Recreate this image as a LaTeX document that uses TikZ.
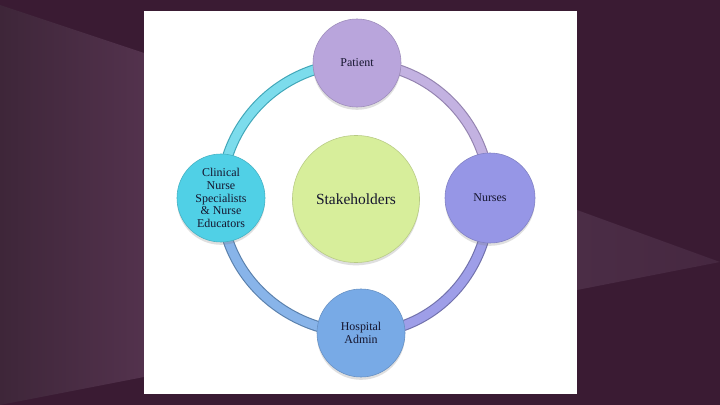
\documentclass[tikz,border=0pt]{standalone}
\usepackage{fontspec}
\setmainfont{Liberation Serif}
\usetikzlibrary{shadows}

\definecolor{slidedark}{HTML}{3A1B33}
\definecolor{slideleftA}{HTML}{3E2639}
\definecolor{slideleftB}{HTML}{53324D}
\definecolor{slideright}{HTML}{4B2D46}
\definecolor{textnavy}{HTML}{15152E}
\definecolor{patientcol}{HTML}{B9A5DC}
\definecolor{nursecol}{HTML}{9696E6}
\definecolor{admincol}{HTML}{78AAE6}
\definecolor{cnscol}{HTML}{50D0E6}
\definecolor{stakecol}{HTML}{D7EE9B}

\pgfdeclarelayer{slide}
\pgfdeclarelayer{ring}
\pgfsetlayers{slide,ring,main}

\begin{document}
\begin{tikzpicture}[x=0.025cm,y=-0.025cm]
   \tikzstyle{every node}=[font=\fontsize{8.5}{9}\selectfont, text=textnavy, align=center]
   \tikzstyle{bubble}=[circle, minimum size=2.2cm, inner sep=1pt,
      drop shadow={shadow xshift=0pt, shadow yshift=-2pt, opacity=0.25}]
   \tikzstyle{ringarc}=[line width=0.8pt, double distance=6.2pt, line cap=round]

   \useasboundingbox (0,0) rectangle (720,405);

   % the slide behind the picture
   \begin{pgfonlayer}{slide}
      \fill[slidedark] (0,0) rectangle (720,405);
      \shade[left color=slideleftA, right color=slideleftB]
         (0,5) -- (144,53) -- (144,377) -- (0,405) -- cycle;
      \shade[left color=slideright, right color=slideright!70!slidedark]
         (577,210) -- (720,262) -- (577,290) -- cycle;
      \fill[white] (144,11) rectangle (577,394);
   \end{pgfonlayer}

   \node[bubble, fill=stakecol, draw=stakecol!85!black, minimum size=3.175cm,
      font=\fontsize{11}{12}\selectfont] (stake) at (356,199) {Stakeholders};

   \node[bubble, fill=patientcol, draw=patientcol!85!black] (patient) at (357,63) {Patient};
   \node[bubble, fill=nursecol, draw=nursecol!85!black, minimum size=2.25cm] (nurses) at (490,198) {Nurses};
   \node[bubble, fill=admincol, draw=admincol!85!black] (admin) at (361,333) {Hospital\\Admin};
   \node[bubble, fill=cnscol, draw=cnscol!85!black] (cns) at (221,198)
      {Clinical\\Nurse\\Specialists\\\& Nurse\\Educators};

   % ring round the stakeholders
   \begin{pgfonlayer}{ring}
      \draw[ringarc, draw=cnscol!80!black, double=cnscol!75!white]
         (cns.center) to[out=90, in=180] (patient.center);
      \draw[ringarc, draw=patientcol!80!black, double=patientcol!85!white]
         (patient.center) to[out=0, in=90] (nurses.center);
      \draw[ringarc, draw=nursecol!75!black, double=nursecol!92!white]
         (nurses.center) to[out=-90, in=0] (admin.center);
      \draw[ringarc, draw=admincol!75!black, double=admincol!88!white]
         (admin.center) to[out=180, in=-90] (cns.center);
   \end{pgfonlayer}
\end{tikzpicture}
\end{document}
